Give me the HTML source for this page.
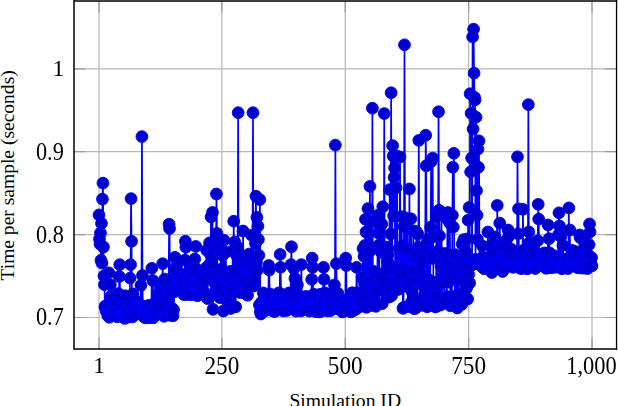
<!DOCTYPE html>
<html><head><meta charset="utf-8"><style>
html,body{margin:0;padding:0;background:#fff;overflow:hidden}
svg{display:block}
</style></head><body>
<svg width="618" height="406" viewBox="0 0 618 406">
<path d="M99.00 1.00V349.00M221.88 1.00V349.00M345.26 1.00V349.00M468.63 1.00V349.00M592.01 1.00V349.00M74.00 317.50H616.55M74.00 234.60H616.55M74.00 151.70H616.55M74.00 68.80H616.55" stroke="#b8b8b8" stroke-width="1.2" fill="none"/>
<path d="M99.00 349.00v-11.5M99.00 1.00v11.5M221.88 349.00v-11.5M221.88 1.00v11.5M345.26 349.00v-11.5M345.26 1.00v11.5M468.63 349.00v-11.5M468.63 1.00v11.5M592.01 349.00v-11.5M592.01 1.00v11.5M74.00 317.50h11.5M616.55 317.50h-11.5M74.00 234.60h11.5M616.55 234.60h-11.5M74.00 151.70h11.5M616.55 151.70h-11.5M74.00 68.80h11.5M616.55 68.80h-11.5" stroke="#9a9a9a" stroke-width="1.2" fill="none"/>
<g clip-path="url(#c)">
<path d="M99.00 214.90 L99.49 238.90 L99.99 244.00 L100.48 233.00 L100.97 260.30 L101.47 223.40 L101.96 263.20 L102.45 199.10 L102.95 183.10 L103.44 247.00 L103.94 275.80 L104.43 284.70 L104.92 306.96 L105.42 305.94 L105.91 309.75 L106.40 311.60 L106.90 310.64 L107.39 306.18 L107.88 315.75 L108.38 307.90 L108.87 272.80 L109.36 317.32 L109.86 310.16 L110.35 284.70 L110.84 296.42 L111.34 308.76 L111.83 306.53 L112.32 315.61 L112.82 312.56 L113.31 310.03 L113.81 305.85 L114.30 307.78 L114.79 310.77 L115.29 312.91 L115.78 309.05 L116.27 301.09 L116.77 312.75 L117.26 316.81 L117.75 295.74 L118.25 293.53 L118.74 315.22 L119.23 276.50 L119.73 264.70 L120.22 311.60 L120.71 314.02 L121.21 299.45 L121.70 296.08 L122.19 313.02 L122.69 311.16 L123.18 304.28 L123.67 313.97 L124.17 314.47 L124.66 318.41 L125.16 295.70 L125.65 314.03 L126.14 311.23 L126.64 306.58 L127.13 315.37 L127.62 308.34 L128.12 316.76 L128.61 311.06 L129.10 316.93 L129.60 303.23 L130.09 278.10 L130.58 264.70 L131.08 198.60 L131.57 241.30 L132.06 310.61 L132.56 316.94 L133.05 293.96 L133.55 308.13 L134.04 311.55 L134.53 308.55 L135.03 310.66 L135.52 312.65 L136.01 300.98 L136.51 313.34 L137.00 305.73 L137.49 302.14 L137.99 302.37 L138.48 310.39 L138.97 313.56 L139.47 305.91 L139.96 307.19 L140.45 305.71 L140.95 285.40 L141.44 307.04 L141.93 136.60 L142.43 275.50 L142.92 309.91 L143.41 316.37 L143.91 306.93 L144.40 309.52 L144.90 306.60 L145.39 317.91 L145.88 311.29 L146.38 306.33 L146.87 308.44 L147.36 307.10 L147.86 317.36 L148.35 306.91 L148.84 305.35 L149.34 317.72 L149.83 314.05 L150.32 309.77 L150.82 315.04 L151.31 315.13 L151.80 268.30 L152.30 307.90 L152.79 280.50 L153.28 317.80 L153.78 315.48 L154.27 314.62 L154.77 311.73 L155.26 305.38 L155.75 308.63 L156.25 314.00 L156.74 300.03 L157.23 304.89 L157.73 299.28 L158.22 307.95 L158.71 307.66 L159.21 292.21 L159.70 284.63 L160.19 290.39 L160.69 312.59 L161.18 290.08 L161.67 284.60 L162.17 314.26 L162.66 263.70 L163.16 314.41 L163.65 283.13 L164.14 316.31 L164.64 279.06 L165.13 305.96 L165.62 290.52 L166.12 314.74 L166.61 287.83 L167.10 311.13 L167.60 304.19 L168.09 287.69 L168.58 300.20 L169.08 224.20 L169.57 228.50 L170.06 292.81 L170.56 315.33 L171.05 279.80 L171.54 307.81 L172.04 311.62 L172.53 309.45 L173.03 315.83 L173.52 309.96 L174.01 291.32 L174.51 291.70 L175.00 257.30 L175.49 269.30 L175.99 280.89 L176.48 266.52 L176.97 271.13 L177.47 288.38 L177.96 279.26 L178.45 281.58 L178.95 280.51 L179.44 287.96 L179.93 281.69 L180.43 273.75 L180.92 280.22 L181.41 287.28 L181.91 278.41 L182.40 280.16 L182.89 285.40 L183.39 284.80 L183.88 294.60 L184.38 293.04 L184.87 260.15 L185.36 241.20 L185.86 247.20 L186.35 294.64 L186.84 275.29 L187.34 282.61 L187.83 277.78 L188.32 288.07 L188.82 293.53 L189.31 289.19 L189.80 275.43 L190.30 271.48 L190.79 294.86 L191.28 283.69 L191.78 269.32 L192.27 282.36 L192.76 280.14 L193.26 279.64 L193.75 272.47 L194.25 282.57 L194.74 259.00 L195.23 267.80 L195.73 246.40 L196.22 279.96 L196.71 284.29 L197.21 295.64 L197.70 295.32 L198.19 278.37 L198.69 290.70 L199.18 275.11 L199.67 293.87 L200.17 278.21 L200.66 294.06 L201.15 288.81 L201.65 273.38 L202.14 282.21 L202.63 294.52 L203.13 291.24 L203.62 292.55 L204.12 292.71 L204.61 280.14 L205.10 293.65 L205.60 268.14 L206.09 271.63 L206.58 250.10 L207.08 269.17 L207.57 298.62 L208.06 273.76 L208.56 273.28 L209.05 264.90 L209.54 242.80 L210.04 269.69 L210.53 254.50 L211.02 216.90 L211.52 264.58 L212.01 264.49 L212.50 212.40 L213.00 309.40 L213.49 281.63 L213.99 279.19 L214.48 240.76 L214.97 249.24 L215.47 290.71 L215.96 247.20 L216.45 194.00 L216.95 233.45 L217.44 280.21 L217.93 295.44 L218.43 290.63 L218.92 284.35 L219.41 275.12 L219.91 297.69 L220.40 287.71 L220.89 251.60 L221.39 269.22 L221.88 290.92 L222.38 255.43 L222.87 271.75 L223.36 311.00 L223.86 240.25 L224.35 278.70 L224.84 278.27 L225.34 294.78 L225.83 252.22 L226.32 294.90 L226.82 275.41 L227.31 300.96 L227.80 280.09 L228.30 280.15 L228.79 299.43 L229.28 276.78 L229.78 296.29 L230.27 271.45 L230.76 308.50 L231.26 280.93 L231.75 285.04 L232.25 292.13 L232.74 250.80 L233.23 274.44 L233.73 221.20 L234.22 270.80 L234.71 241.89 L235.21 284.58 L235.70 306.86 L236.19 254.31 L236.69 289.99 L237.18 256.00 L237.67 247.20 L238.17 112.70 L238.66 280.76 L239.15 290.72 L239.65 259.49 L240.14 292.57 L240.63 286.19 L241.13 265.00 L241.62 275.54 L242.12 290.75 L242.61 284.09 L243.10 231.00 L243.60 285.78 L244.09 264.11 L244.58 257.45 L245.08 281.13 L245.57 266.11 L246.06 272.07 L246.56 272.50 L247.05 270.57 L247.54 295.22 L248.04 276.24 L248.53 285.88 L249.02 254.04 L249.52 266.48 L250.01 272.13 L250.50 273.74 L251.00 264.40 L251.49 235.15 L251.98 263.40 L252.48 272.60 L252.97 112.70 L253.47 286.15 L253.96 273.31 L254.45 278.87 L254.95 267.79 L255.44 243.18 L255.93 196.20 L256.43 262.34 L256.92 217.30 L257.41 270.10 L257.91 226.20 L258.40 239.40 L258.89 255.30 L259.39 304.97 L259.88 199.60 L260.37 311.59 L260.87 314.00 L261.36 302.49 L261.86 311.29 L262.35 306.56 L262.84 305.81 L263.34 292.93 L263.83 305.61 L264.32 308.14 L264.82 310.67 L265.31 299.32 L265.80 305.39 L266.30 302.93 L266.79 303.47 L267.28 309.92 L267.78 308.76 L268.27 300.56 L268.76 265.50 L269.26 270.10 L269.75 296.99 L270.24 294.03 L270.74 304.11 L271.23 296.12 L271.73 304.56 L272.22 299.63 L272.71 309.85 L273.21 311.16 L273.70 302.45 L274.19 301.47 L274.69 311.43 L275.18 309.56 L275.67 310.87 L276.17 295.84 L276.66 299.64 L277.15 304.86 L277.65 307.38 L278.14 299.64 L278.63 292.89 L279.13 303.47 L279.62 308.61 L280.11 254.40 L280.61 267.30 L281.10 293.82 L281.60 302.91 L282.09 304.13 L282.58 301.10 L283.08 310.78 L283.57 301.86 L284.06 298.98 L284.56 300.81 L285.05 300.18 L285.54 300.18 L286.04 302.36 L286.53 310.53 L287.02 304.37 L287.52 305.81 L288.01 303.40 L288.50 302.61 L289.00 292.88 L289.49 307.19 L289.98 301.81 L290.48 302.23 L290.97 264.60 L291.47 246.75 L291.96 304.80 L292.45 297.94 L292.95 299.28 L293.44 308.22 L293.93 268.60 L294.43 305.15 L294.92 278.40 L295.41 299.00 L295.91 311.05 L296.40 310.12 L296.89 293.74 L297.39 284.90 L297.88 301.01 L298.37 307.87 L298.87 297.05 L299.36 308.94 L299.85 306.17 L300.35 309.17 L300.84 310.96 L301.34 264.60 L301.83 302.95 L302.32 302.27 L302.82 308.08 L303.31 299.91 L303.80 306.58 L304.30 301.91 L304.79 299.14 L305.28 304.99 L305.78 296.51 L306.27 305.18 L306.76 302.21 L307.26 296.93 L307.75 299.28 L308.24 307.77 L308.74 302.34 L309.23 311.03 L309.72 299.44 L310.22 304.47 L310.71 301.58 L311.20 308.61 L311.70 279.40 L312.19 258.10 L312.69 267.30 L313.18 301.67 L313.67 294.18 L314.17 302.00 L314.66 308.89 L315.15 311.38 L315.65 301.44 L316.14 304.42 L316.63 311.33 L317.13 304.11 L317.62 311.66 L318.11 299.67 L318.61 304.11 L319.10 310.49 L319.59 311.97 L320.09 294.30 L320.58 311.17 L321.07 299.41 L321.57 303.92 L322.06 303.31 L322.56 299.04 L323.05 303.57 L323.54 267.30 L324.04 279.40 L324.53 292.87 L325.02 293.45 L325.52 309.68 L326.01 304.62 L326.50 305.16 L327.00 310.95 L327.49 303.74 L327.98 299.39 L328.48 309.55 L328.97 299.53 L329.46 299.81 L329.96 293.80 L330.45 310.68 L330.94 302.54 L331.44 296.32 L331.93 308.32 L332.43 302.58 L332.92 308.82 L333.41 296.44 L333.91 292.17 L334.40 284.90 L334.89 305.18 L335.39 145.10 L335.88 298.68 L336.37 263.70 L336.87 302.26 L337.36 305.42 L337.85 293.28 L338.35 308.60 L338.84 309.05 L339.33 303.26 L339.83 303.70 L340.32 300.03 L340.81 308.79 L341.31 299.84 L341.80 306.18 L342.30 311.74 L342.79 311.84 L343.28 300.09 L343.78 305.48 L344.27 304.81 L344.76 304.42 L345.26 307.76 L345.75 258.10 L346.24 265.50 L346.74 310.01 L347.23 300.58 L347.72 302.82 L348.22 303.85 L348.71 301.59 L349.20 302.19 L349.70 310.49 L350.19 303.24 L350.69 311.90 L351.18 302.01 L351.67 307.49 L352.17 292.72 L352.66 309.65 L353.15 310.89 L353.65 302.82 L354.14 301.46 L354.63 296.08 L355.13 294.61 L355.62 304.84 L356.11 309.11 L356.61 267.30 L357.10 292.74 L357.59 307.06 L358.09 303.79 L358.58 301.65 L359.07 306.79 L359.57 301.64 L360.06 303.25 L360.56 301.41 L361.05 301.64 L361.54 306.12 L362.04 277.55 L362.53 293.25 L363.02 248.55 L363.52 298.34 L364.01 256.30 L364.50 283.92 L365.00 245.45 L365.49 219.30 L365.98 232.00 L366.48 307.36 L366.97 293.83 L367.46 288.58 L367.96 208.55 L368.45 245.89 L368.94 280.90 L369.44 251.70 L369.93 186.35 L370.43 305.56 L370.92 222.20 L371.41 302.71 L371.91 304.90 L372.40 108.20 L372.89 279.69 L373.39 293.30 L373.88 271.47 L374.37 295.78 L374.87 291.66 L375.36 283.92 L375.85 306.39 L376.35 291.17 L376.84 273.07 L377.33 278.43 L377.83 215.30 L378.32 233.00 L378.81 245.17 L379.31 275.87 L379.80 225.19 L380.30 233.09 L380.79 250.49 L381.28 252.22 L381.78 224.20 L382.27 303.62 L382.76 206.75 L383.26 251.12 L383.75 287.99 L384.24 113.55 L384.74 287.43 L385.23 282.65 L385.72 271.12 L386.22 293.68 L386.71 247.07 L387.20 249.30 L387.70 261.40 L388.19 254.57 L388.68 294.39 L389.18 297.06 L389.67 189.60 L390.17 289.34 L390.66 234.00 L391.15 92.75 L391.65 295.66 L392.14 282.23 L392.63 145.65 L393.13 156.10 L393.62 215.85 L394.11 177.38 L394.61 168.00 L395.10 267.84 L395.59 280.28 L396.09 187.75 L396.58 277.75 L397.07 156.10 L397.57 289.07 L398.06 289.47 L398.55 275.43 L399.05 248.30 L399.54 267.77 L400.03 157.00 L400.53 275.90 L401.02 287.23 L401.52 216.63 L402.01 245.87 L402.50 268.82 L403.00 308.36 L403.49 307.48 L403.98 226.60 L404.48 44.80 L404.97 217.61 L405.46 272.06 L405.96 286.28 L406.45 250.45 L406.94 221.35 L407.44 250.02 L407.93 306.20 L408.42 283.20 L408.92 285.17 L409.41 188.97 L409.90 280.37 L410.40 306.77 L410.89 218.75 L411.39 271.07 L411.88 301.47 L412.37 292.58 L412.87 256.07 L413.36 230.88 L413.85 270.71 L414.35 308.75 L414.84 257.04 L415.33 253.41 L415.83 308.00 L416.32 231.63 L416.81 300.76 L417.31 280.19 L417.80 234.00 L418.29 247.35 L418.79 140.40 L419.28 253.10 L419.77 273.55 L420.27 264.58 L420.76 274.06 L421.26 279.23 L421.75 258.10 L422.24 305.34 L422.74 281.95 L423.23 246.62 L423.72 286.42 L424.22 286.50 L424.71 294.43 L425.20 251.72 L425.70 135.25 L426.19 165.77 L426.68 259.30 L427.18 306.78 L427.67 239.90 L428.16 279.23 L428.66 296.34 L429.15 238.59 L429.64 283.25 L430.14 296.57 L430.63 227.10 L431.13 161.50 L431.62 255.81 L432.11 258.43 L432.61 158.10 L433.10 236.94 L433.59 305.62 L434.09 292.60 L434.58 282.32 L435.07 301.26 L435.57 307.00 L436.06 293.28 L436.55 216.84 L437.05 295.28 L437.54 296.45 L438.03 250.89 L438.53 111.75 L439.02 210.25 L439.51 235.90 L440.01 284.51 L440.50 305.13 L441.00 266.03 L441.49 212.30 L441.98 303.56 L442.48 259.03 L442.97 258.67 L443.46 277.68 L443.96 275.36 L444.45 300.24 L444.94 269.67 L445.44 253.45 L445.93 258.21 L446.42 260.65 L446.92 296.47 L447.41 219.38 L447.90 212.52 L448.40 282.26 L448.89 272.45 L449.38 255.15 L449.88 223.17 L450.37 305.76 L450.87 265.40 L451.36 273.41 L451.85 303.39 L452.35 215.20 L452.84 167.25 L453.33 227.10 L453.83 153.30 L454.32 270.01 L454.81 299.36 L455.31 254.62 L455.80 295.79 L456.29 305.88 L456.79 274.94 L457.28 308.00 L457.77 306.51 L458.27 278.96 L458.76 275.46 L459.25 263.75 L459.75 266.63 L460.24 294.67 L460.74 302.61 L461.23 270.96 L461.72 304.37 L462.22 244.11 L462.71 281.20 L463.20 275.20 L463.70 239.61 L464.19 269.10 L464.68 254.05 L465.18 277.43 L465.67 251.74 L466.16 288.83 L466.66 287.30 L467.15 238.90 L467.64 299.00 L468.14 220.20 L468.63 274.50 L469.12 207.40 L469.62 282.98 L470.11 93.75 L470.61 171.90 L471.10 113.30 L471.59 158.00 L472.09 265.02 L472.58 36.90 L473.07 129.00 L473.57 29.10 L474.06 73.20 L474.55 97.30 L475.05 99.90 L475.54 259.49 L476.03 117.20 L476.53 190.60 L477.02 215.20 L477.51 239.54 L478.01 149.10 L478.50 167.25 L479.00 140.80 L479.49 263.66 L479.98 263.60 L480.48 260.78 L480.97 265.82 L481.46 264.87 L481.96 258.03 L482.45 245.91 L482.94 257.39 L483.44 257.83 L483.93 268.69 L484.42 261.87 L484.92 266.15 L485.41 261.92 L485.90 266.65 L486.40 268.21 L486.89 258.01 L487.38 261.98 L487.88 232.00 L488.37 263.91 L488.87 266.03 L489.36 266.02 L489.85 259.98 L490.35 260.52 L490.84 245.86 L491.33 245.25 L491.83 272.50 L492.32 258.68 L492.81 250.01 L493.31 267.38 L493.80 261.45 L494.29 265.56 L494.79 236.90 L495.28 264.05 L495.77 259.57 L496.27 266.80 L496.76 265.39 L497.25 205.40 L497.75 261.14 L498.24 263.11 L498.74 261.47 L499.23 247.38 L499.72 223.05 L500.22 259.22 L500.71 266.81 L501.20 257.18 L501.70 259.57 L502.19 257.25 L502.68 271.50 L503.18 257.65 L503.67 242.02 L504.16 268.47 L504.66 260.38 L505.15 242.74 L505.64 261.09 L506.14 243.60 L506.63 263.93 L507.12 257.89 L507.62 255.48 L508.11 230.00 L508.61 236.70 L509.10 266.07 L509.59 262.01 L510.09 261.49 L510.58 263.45 L511.07 265.37 L511.57 249.30 L512.06 265.49 L512.55 258.20 L513.05 267.32 L513.54 264.80 L514.03 264.51 L514.53 265.60 L515.02 261.35 L515.51 263.80 L516.01 260.87 L516.50 264.98 L516.99 258.50 L517.49 156.80 L517.98 233.80 L518.48 208.80 L518.97 261.37 L519.46 260.73 L519.96 268.02 L520.45 264.16 L520.94 260.44 L521.44 268.64 L521.93 262.61 L522.42 265.95 L522.92 209.30 L523.41 250.19 L523.90 263.04 L524.40 265.04 L524.89 263.95 L525.38 262.30 L525.88 268.27 L526.37 264.58 L526.86 265.68 L527.36 268.78 L527.85 255.79 L528.35 104.60 L528.84 231.90 L529.33 242.70 L529.83 260.60 L530.32 260.86 L530.81 264.78 L531.31 258.71 L531.80 265.38 L532.29 250.27 L532.79 266.22 L533.28 257.97 L533.77 265.87 L534.27 263.88 L534.76 262.87 L535.25 268.49 L535.75 263.94 L536.24 266.43 L536.73 259.12 L537.23 256.75 L537.72 240.70 L538.21 204.30 L538.71 219.10 L539.20 259.97 L539.70 258.74 L540.19 258.55 L540.68 257.60 L541.18 265.11 L541.67 258.43 L542.16 261.71 L542.66 263.92 L543.15 260.07 L543.64 253.54 L544.14 266.59 L544.63 252.84 L545.12 266.64 L545.62 255.21 L546.11 268.32 L546.60 258.50 L547.10 257.00 L547.59 265.87 L548.09 225.00 L548.58 257.14 L549.07 238.70 L549.57 252.92 L550.06 267.48 L550.55 265.94 L551.05 267.51 L551.54 266.74 L552.03 264.70 L552.53 265.39 L553.02 267.36 L553.51 258.70 L554.01 256.95 L554.50 255.82 L554.99 257.02 L555.49 261.97 L555.98 267.08 L556.47 266.77 L556.97 262.88 L557.46 266.77 L557.95 260.86 L558.45 234.83 L558.94 212.80 L559.44 226.00 L559.93 263.91 L560.42 263.54 L560.92 236.70 L561.41 268.04 L561.90 268.74 L562.40 261.79 L562.89 245.34 L563.38 263.75 L563.88 267.06 L564.37 261.64 L564.86 265.79 L565.36 261.09 L565.85 262.76 L566.34 259.10 L566.84 260.65 L567.33 258.80 L567.83 268.65 L568.32 266.09 L568.81 207.90 L569.31 259.44 L569.80 230.00 L570.29 263.21 L570.79 265.98 L571.28 265.12 L571.77 250.45 L572.27 259.21 L572.76 257.66 L573.25 251.09 L573.75 266.05 L574.24 251.12 L574.73 263.78 L575.23 263.35 L575.72 257.98 L576.21 261.41 L576.71 256.42 L577.20 255.52 L577.69 267.80 L578.19 260.16 L578.68 266.01 L579.18 258.61 L579.67 234.90 L580.16 237.70 L580.66 260.90 L581.15 261.03 L581.64 268.07 L582.14 262.95 L582.63 256.66 L583.12 263.05 L583.62 249.46 L584.11 260.42 L584.60 268.13 L585.10 239.23 L585.59 256.43 L586.08 257.97 L586.58 255.22 L587.07 264.57 L587.57 268.53 L588.06 267.17 L588.55 255.25 L589.05 244.60 L589.54 224.00 L590.03 231.90 L590.53 261.40 L591.02 258.39 L591.51 257.62 L592.01 265.84" stroke="#0000ff" stroke-width="1.7" fill="none" stroke-linejoin="round"/>
<g fill="#0000cc" stroke="#0000ff" stroke-width="0.9"><circle cx="99.00" cy="214.90" r="5.9"/><circle cx="99.49" cy="238.90" r="5.9"/><circle cx="99.99" cy="244.00" r="5.9"/><circle cx="100.48" cy="233.00" r="5.9"/><circle cx="100.97" cy="260.30" r="5.9"/><circle cx="101.47" cy="223.40" r="5.9"/><circle cx="101.96" cy="263.20" r="5.9"/><circle cx="102.45" cy="199.10" r="5.9"/><circle cx="102.95" cy="183.10" r="5.9"/><circle cx="103.44" cy="247.00" r="5.9"/><circle cx="103.94" cy="275.80" r="5.9"/><circle cx="104.43" cy="284.70" r="5.9"/><circle cx="104.92" cy="306.96" r="5.9"/><circle cx="105.42" cy="305.94" r="5.9"/><circle cx="105.91" cy="309.75" r="5.9"/><circle cx="106.40" cy="311.60" r="5.9"/><circle cx="106.90" cy="310.64" r="5.9"/><circle cx="107.39" cy="306.18" r="5.9"/><circle cx="107.88" cy="315.75" r="5.9"/><circle cx="108.38" cy="307.90" r="5.9"/><circle cx="108.87" cy="272.80" r="5.9"/><circle cx="109.36" cy="317.32" r="5.9"/><circle cx="109.86" cy="310.16" r="5.9"/><circle cx="110.35" cy="284.70" r="5.9"/><circle cx="110.84" cy="296.42" r="5.9"/><circle cx="111.34" cy="308.76" r="5.9"/><circle cx="111.83" cy="306.53" r="5.9"/><circle cx="112.32" cy="315.61" r="5.9"/><circle cx="112.82" cy="312.56" r="5.9"/><circle cx="113.31" cy="310.03" r="5.9"/><circle cx="113.81" cy="305.85" r="5.9"/><circle cx="114.30" cy="307.78" r="5.9"/><circle cx="114.79" cy="310.77" r="5.9"/><circle cx="115.29" cy="312.91" r="5.9"/><circle cx="115.78" cy="309.05" r="5.9"/><circle cx="116.27" cy="301.09" r="5.9"/><circle cx="116.77" cy="312.75" r="5.9"/><circle cx="117.26" cy="316.81" r="5.9"/><circle cx="117.75" cy="295.74" r="5.9"/><circle cx="118.25" cy="293.53" r="5.9"/><circle cx="118.74" cy="315.22" r="5.9"/><circle cx="119.23" cy="276.50" r="5.9"/><circle cx="119.73" cy="264.70" r="5.9"/><circle cx="120.22" cy="311.60" r="5.9"/><circle cx="120.71" cy="314.02" r="5.9"/><circle cx="121.21" cy="299.45" r="5.9"/><circle cx="121.70" cy="296.08" r="5.9"/><circle cx="122.19" cy="313.02" r="5.9"/><circle cx="122.69" cy="311.16" r="5.9"/><circle cx="123.18" cy="304.28" r="5.9"/><circle cx="123.67" cy="313.97" r="5.9"/><circle cx="124.17" cy="314.47" r="5.9"/><circle cx="124.66" cy="318.41" r="5.9"/><circle cx="125.16" cy="295.70" r="5.9"/><circle cx="125.65" cy="314.03" r="5.9"/><circle cx="126.14" cy="311.23" r="5.9"/><circle cx="126.64" cy="306.58" r="5.9"/><circle cx="127.13" cy="315.37" r="5.9"/><circle cx="127.62" cy="308.34" r="5.9"/><circle cx="128.12" cy="316.76" r="5.9"/><circle cx="128.61" cy="311.06" r="5.9"/><circle cx="129.10" cy="316.93" r="5.9"/><circle cx="129.60" cy="303.23" r="5.9"/><circle cx="130.09" cy="278.10" r="5.9"/><circle cx="130.58" cy="264.70" r="5.9"/><circle cx="131.08" cy="198.60" r="5.9"/><circle cx="131.57" cy="241.30" r="5.9"/><circle cx="132.06" cy="310.61" r="5.9"/><circle cx="132.56" cy="316.94" r="5.9"/><circle cx="133.05" cy="293.96" r="5.9"/><circle cx="133.55" cy="308.13" r="5.9"/><circle cx="134.04" cy="311.55" r="5.9"/><circle cx="134.53" cy="308.55" r="5.9"/><circle cx="135.03" cy="310.66" r="5.9"/><circle cx="135.52" cy="312.65" r="5.9"/><circle cx="136.01" cy="300.98" r="5.9"/><circle cx="136.51" cy="313.34" r="5.9"/><circle cx="137.00" cy="305.73" r="5.9"/><circle cx="137.49" cy="302.14" r="5.9"/><circle cx="137.99" cy="302.37" r="5.9"/><circle cx="138.48" cy="310.39" r="5.9"/><circle cx="138.97" cy="313.56" r="5.9"/><circle cx="139.47" cy="305.91" r="5.9"/><circle cx="139.96" cy="307.19" r="5.9"/><circle cx="140.45" cy="305.71" r="5.9"/><circle cx="140.95" cy="285.40" r="5.9"/><circle cx="141.44" cy="307.04" r="5.9"/><circle cx="141.93" cy="136.60" r="5.9"/><circle cx="142.43" cy="275.50" r="5.9"/><circle cx="142.92" cy="309.91" r="5.9"/><circle cx="143.41" cy="316.37" r="5.9"/><circle cx="143.91" cy="306.93" r="5.9"/><circle cx="144.40" cy="309.52" r="5.9"/><circle cx="144.90" cy="306.60" r="5.9"/><circle cx="145.39" cy="317.91" r="5.9"/><circle cx="145.88" cy="311.29" r="5.9"/><circle cx="146.38" cy="306.33" r="5.9"/><circle cx="146.87" cy="308.44" r="5.9"/><circle cx="147.36" cy="307.10" r="5.9"/><circle cx="147.86" cy="317.36" r="5.9"/><circle cx="148.35" cy="306.91" r="5.9"/><circle cx="148.84" cy="305.35" r="5.9"/><circle cx="149.34" cy="317.72" r="5.9"/><circle cx="149.83" cy="314.05" r="5.9"/><circle cx="150.32" cy="309.77" r="5.9"/><circle cx="150.82" cy="315.04" r="5.9"/><circle cx="151.31" cy="315.13" r="5.9"/><circle cx="151.80" cy="268.30" r="5.9"/><circle cx="152.30" cy="307.90" r="5.9"/><circle cx="152.79" cy="280.50" r="5.9"/><circle cx="153.28" cy="317.80" r="5.9"/><circle cx="153.78" cy="315.48" r="5.9"/><circle cx="154.27" cy="314.62" r="5.9"/><circle cx="154.77" cy="311.73" r="5.9"/><circle cx="155.26" cy="305.38" r="5.9"/><circle cx="155.75" cy="308.63" r="5.9"/><circle cx="156.25" cy="314.00" r="5.9"/><circle cx="156.74" cy="300.03" r="5.9"/><circle cx="157.23" cy="304.89" r="5.9"/><circle cx="157.73" cy="299.28" r="5.9"/><circle cx="158.22" cy="307.95" r="5.9"/><circle cx="158.71" cy="307.66" r="5.9"/><circle cx="159.21" cy="292.21" r="5.9"/><circle cx="159.70" cy="284.63" r="5.9"/><circle cx="160.19" cy="290.39" r="5.9"/><circle cx="160.69" cy="312.59" r="5.9"/><circle cx="161.18" cy="290.08" r="5.9"/><circle cx="161.67" cy="284.60" r="5.9"/><circle cx="162.17" cy="314.26" r="5.9"/><circle cx="162.66" cy="263.70" r="5.9"/><circle cx="163.16" cy="314.41" r="5.9"/><circle cx="163.65" cy="283.13" r="5.9"/><circle cx="164.14" cy="316.31" r="5.9"/><circle cx="164.64" cy="279.06" r="5.9"/><circle cx="165.13" cy="305.96" r="5.9"/><circle cx="165.62" cy="290.52" r="5.9"/><circle cx="166.12" cy="314.74" r="5.9"/><circle cx="166.61" cy="287.83" r="5.9"/><circle cx="167.10" cy="311.13" r="5.9"/><circle cx="167.60" cy="304.19" r="5.9"/><circle cx="168.09" cy="287.69" r="5.9"/><circle cx="168.58" cy="300.20" r="5.9"/><circle cx="169.08" cy="224.20" r="5.9"/><circle cx="169.57" cy="228.50" r="5.9"/><circle cx="170.06" cy="292.81" r="5.9"/><circle cx="170.56" cy="315.33" r="5.9"/><circle cx="171.05" cy="279.80" r="5.9"/><circle cx="171.54" cy="307.81" r="5.9"/><circle cx="172.04" cy="311.62" r="5.9"/><circle cx="172.53" cy="309.45" r="5.9"/><circle cx="173.03" cy="315.83" r="5.9"/><circle cx="173.52" cy="309.96" r="5.9"/><circle cx="174.01" cy="291.32" r="5.9"/><circle cx="174.51" cy="291.70" r="5.9"/><circle cx="175.00" cy="257.30" r="5.9"/><circle cx="175.49" cy="269.30" r="5.9"/><circle cx="175.99" cy="280.89" r="5.9"/><circle cx="176.48" cy="266.52" r="5.9"/><circle cx="176.97" cy="271.13" r="5.9"/><circle cx="177.47" cy="288.38" r="5.9"/><circle cx="177.96" cy="279.26" r="5.9"/><circle cx="178.45" cy="281.58" r="5.9"/><circle cx="178.95" cy="280.51" r="5.9"/><circle cx="179.44" cy="287.96" r="5.9"/><circle cx="179.93" cy="281.69" r="5.9"/><circle cx="180.43" cy="273.75" r="5.9"/><circle cx="180.92" cy="280.22" r="5.9"/><circle cx="181.41" cy="287.28" r="5.9"/><circle cx="181.91" cy="278.41" r="5.9"/><circle cx="182.40" cy="280.16" r="5.9"/><circle cx="182.89" cy="285.40" r="5.9"/><circle cx="183.39" cy="284.80" r="5.9"/><circle cx="183.88" cy="294.60" r="5.9"/><circle cx="184.38" cy="293.04" r="5.9"/><circle cx="184.87" cy="260.15" r="5.9"/><circle cx="185.36" cy="241.20" r="5.9"/><circle cx="185.86" cy="247.20" r="5.9"/><circle cx="186.35" cy="294.64" r="5.9"/><circle cx="186.84" cy="275.29" r="5.9"/><circle cx="187.34" cy="282.61" r="5.9"/><circle cx="187.83" cy="277.78" r="5.9"/><circle cx="188.32" cy="288.07" r="5.9"/><circle cx="188.82" cy="293.53" r="5.9"/><circle cx="189.31" cy="289.19" r="5.9"/><circle cx="189.80" cy="275.43" r="5.9"/><circle cx="190.30" cy="271.48" r="5.9"/><circle cx="190.79" cy="294.86" r="5.9"/><circle cx="191.28" cy="283.69" r="5.9"/><circle cx="191.78" cy="269.32" r="5.9"/><circle cx="192.27" cy="282.36" r="5.9"/><circle cx="192.76" cy="280.14" r="5.9"/><circle cx="193.26" cy="279.64" r="5.9"/><circle cx="193.75" cy="272.47" r="5.9"/><circle cx="194.25" cy="282.57" r="5.9"/><circle cx="194.74" cy="259.00" r="5.9"/><circle cx="195.23" cy="267.80" r="5.9"/><circle cx="195.73" cy="246.40" r="5.9"/><circle cx="196.22" cy="279.96" r="5.9"/><circle cx="196.71" cy="284.29" r="5.9"/><circle cx="197.21" cy="295.64" r="5.9"/><circle cx="197.70" cy="295.32" r="5.9"/><circle cx="198.19" cy="278.37" r="5.9"/><circle cx="198.69" cy="290.70" r="5.9"/><circle cx="199.18" cy="275.11" r="5.9"/><circle cx="199.67" cy="293.87" r="5.9"/><circle cx="200.17" cy="278.21" r="5.9"/><circle cx="200.66" cy="294.06" r="5.9"/><circle cx="201.15" cy="288.81" r="5.9"/><circle cx="201.65" cy="273.38" r="5.9"/><circle cx="202.14" cy="282.21" r="5.9"/><circle cx="202.63" cy="294.52" r="5.9"/><circle cx="203.13" cy="291.24" r="5.9"/><circle cx="203.62" cy="292.55" r="5.9"/><circle cx="204.12" cy="292.71" r="5.9"/><circle cx="204.61" cy="280.14" r="5.9"/><circle cx="205.10" cy="293.65" r="5.9"/><circle cx="205.60" cy="268.14" r="5.9"/><circle cx="206.09" cy="271.63" r="5.9"/><circle cx="206.58" cy="250.10" r="5.9"/><circle cx="207.08" cy="269.17" r="5.9"/><circle cx="207.57" cy="298.62" r="5.9"/><circle cx="208.06" cy="273.76" r="5.9"/><circle cx="208.56" cy="273.28" r="5.9"/><circle cx="209.05" cy="264.90" r="5.9"/><circle cx="209.54" cy="242.80" r="5.9"/><circle cx="210.04" cy="269.69" r="5.9"/><circle cx="210.53" cy="254.50" r="5.9"/><circle cx="211.02" cy="216.90" r="5.9"/><circle cx="211.52" cy="264.58" r="5.9"/><circle cx="212.01" cy="264.49" r="5.9"/><circle cx="212.50" cy="212.40" r="5.9"/><circle cx="213.00" cy="309.40" r="5.9"/><circle cx="213.49" cy="281.63" r="5.9"/><circle cx="213.99" cy="279.19" r="5.9"/><circle cx="214.48" cy="240.76" r="5.9"/><circle cx="214.97" cy="249.24" r="5.9"/><circle cx="215.47" cy="290.71" r="5.9"/><circle cx="215.96" cy="247.20" r="5.9"/><circle cx="216.45" cy="194.00" r="5.9"/><circle cx="216.95" cy="233.45" r="5.9"/><circle cx="217.44" cy="280.21" r="5.9"/><circle cx="217.93" cy="295.44" r="5.9"/><circle cx="218.43" cy="290.63" r="5.9"/><circle cx="218.92" cy="284.35" r="5.9"/><circle cx="219.41" cy="275.12" r="5.9"/><circle cx="219.91" cy="297.69" r="5.9"/><circle cx="220.40" cy="287.71" r="5.9"/><circle cx="220.89" cy="251.60" r="5.9"/><circle cx="221.39" cy="269.22" r="5.9"/><circle cx="221.88" cy="290.92" r="5.9"/><circle cx="222.38" cy="255.43" r="5.9"/><circle cx="222.87" cy="271.75" r="5.9"/><circle cx="223.36" cy="311.00" r="5.9"/><circle cx="223.86" cy="240.25" r="5.9"/><circle cx="224.35" cy="278.70" r="5.9"/><circle cx="224.84" cy="278.27" r="5.9"/><circle cx="225.34" cy="294.78" r="5.9"/><circle cx="225.83" cy="252.22" r="5.9"/><circle cx="226.32" cy="294.90" r="5.9"/><circle cx="226.82" cy="275.41" r="5.9"/><circle cx="227.31" cy="300.96" r="5.9"/><circle cx="227.80" cy="280.09" r="5.9"/><circle cx="228.30" cy="280.15" r="5.9"/><circle cx="228.79" cy="299.43" r="5.9"/><circle cx="229.28" cy="276.78" r="5.9"/><circle cx="229.78" cy="296.29" r="5.9"/><circle cx="230.27" cy="271.45" r="5.9"/><circle cx="230.76" cy="308.50" r="5.9"/><circle cx="231.26" cy="280.93" r="5.9"/><circle cx="231.75" cy="285.04" r="5.9"/><circle cx="232.25" cy="292.13" r="5.9"/><circle cx="232.74" cy="250.80" r="5.9"/><circle cx="233.23" cy="274.44" r="5.9"/><circle cx="233.73" cy="221.20" r="5.9"/><circle cx="234.22" cy="270.80" r="5.9"/><circle cx="234.71" cy="241.89" r="5.9"/><circle cx="235.21" cy="284.58" r="5.9"/><circle cx="235.70" cy="306.86" r="5.9"/><circle cx="236.19" cy="254.31" r="5.9"/><circle cx="236.69" cy="289.99" r="5.9"/><circle cx="237.18" cy="256.00" r="5.9"/><circle cx="237.67" cy="247.20" r="5.9"/><circle cx="238.17" cy="112.70" r="5.9"/><circle cx="238.66" cy="280.76" r="5.9"/><circle cx="239.15" cy="290.72" r="5.9"/><circle cx="239.65" cy="259.49" r="5.9"/><circle cx="240.14" cy="292.57" r="5.9"/><circle cx="240.63" cy="286.19" r="5.9"/><circle cx="241.13" cy="265.00" r="5.9"/><circle cx="241.62" cy="275.54" r="5.9"/><circle cx="242.12" cy="290.75" r="5.9"/><circle cx="242.61" cy="284.09" r="5.9"/><circle cx="243.10" cy="231.00" r="5.9"/><circle cx="243.60" cy="285.78" r="5.9"/><circle cx="244.09" cy="264.11" r="5.9"/><circle cx="244.58" cy="257.45" r="5.9"/><circle cx="245.08" cy="281.13" r="5.9"/><circle cx="245.57" cy="266.11" r="5.9"/><circle cx="246.06" cy="272.07" r="5.9"/><circle cx="246.56" cy="272.50" r="5.9"/><circle cx="247.05" cy="270.57" r="5.9"/><circle cx="247.54" cy="295.22" r="5.9"/><circle cx="248.04" cy="276.24" r="5.9"/><circle cx="248.53" cy="285.88" r="5.9"/><circle cx="249.02" cy="254.04" r="5.9"/><circle cx="249.52" cy="266.48" r="5.9"/><circle cx="250.01" cy="272.13" r="5.9"/><circle cx="250.50" cy="273.74" r="5.9"/><circle cx="251.00" cy="264.40" r="5.9"/><circle cx="251.49" cy="235.15" r="5.9"/><circle cx="251.98" cy="263.40" r="5.9"/><circle cx="252.48" cy="272.60" r="5.9"/><circle cx="252.97" cy="112.70" r="5.9"/><circle cx="253.47" cy="286.15" r="5.9"/><circle cx="253.96" cy="273.31" r="5.9"/><circle cx="254.45" cy="278.87" r="5.9"/><circle cx="254.95" cy="267.79" r="5.9"/><circle cx="255.44" cy="243.18" r="5.9"/><circle cx="255.93" cy="196.20" r="5.9"/><circle cx="256.43" cy="262.34" r="5.9"/><circle cx="256.92" cy="217.30" r="5.9"/><circle cx="257.41" cy="270.10" r="5.9"/><circle cx="257.91" cy="226.20" r="5.9"/><circle cx="258.40" cy="239.40" r="5.9"/><circle cx="258.89" cy="255.30" r="5.9"/><circle cx="259.39" cy="304.97" r="5.9"/><circle cx="259.88" cy="199.60" r="5.9"/><circle cx="260.37" cy="311.59" r="5.9"/><circle cx="260.87" cy="314.00" r="5.9"/><circle cx="261.36" cy="302.49" r="5.9"/><circle cx="261.86" cy="311.29" r="5.9"/><circle cx="262.35" cy="306.56" r="5.9"/><circle cx="262.84" cy="305.81" r="5.9"/><circle cx="263.34" cy="292.93" r="5.9"/><circle cx="263.83" cy="305.61" r="5.9"/><circle cx="264.32" cy="308.14" r="5.9"/><circle cx="264.82" cy="310.67" r="5.9"/><circle cx="265.31" cy="299.32" r="5.9"/><circle cx="265.80" cy="305.39" r="5.9"/><circle cx="266.30" cy="302.93" r="5.9"/><circle cx="266.79" cy="303.47" r="5.9"/><circle cx="267.28" cy="309.92" r="5.9"/><circle cx="267.78" cy="308.76" r="5.9"/><circle cx="268.27" cy="300.56" r="5.9"/><circle cx="268.76" cy="265.50" r="5.9"/><circle cx="269.26" cy="270.10" r="5.9"/><circle cx="269.75" cy="296.99" r="5.9"/><circle cx="270.24" cy="294.03" r="5.9"/><circle cx="270.74" cy="304.11" r="5.9"/><circle cx="271.23" cy="296.12" r="5.9"/><circle cx="271.73" cy="304.56" r="5.9"/><circle cx="272.22" cy="299.63" r="5.9"/><circle cx="272.71" cy="309.85" r="5.9"/><circle cx="273.21" cy="311.16" r="5.9"/><circle cx="273.70" cy="302.45" r="5.9"/><circle cx="274.19" cy="301.47" r="5.9"/><circle cx="274.69" cy="311.43" r="5.9"/><circle cx="275.18" cy="309.56" r="5.9"/><circle cx="275.67" cy="310.87" r="5.9"/><circle cx="276.17" cy="295.84" r="5.9"/><circle cx="276.66" cy="299.64" r="5.9"/><circle cx="277.15" cy="304.86" r="5.9"/><circle cx="277.65" cy="307.38" r="5.9"/><circle cx="278.14" cy="299.64" r="5.9"/><circle cx="278.63" cy="292.89" r="5.9"/><circle cx="279.13" cy="303.47" r="5.9"/><circle cx="279.62" cy="308.61" r="5.9"/><circle cx="280.11" cy="254.40" r="5.9"/><circle cx="280.61" cy="267.30" r="5.9"/><circle cx="281.10" cy="293.82" r="5.9"/><circle cx="281.60" cy="302.91" r="5.9"/><circle cx="282.09" cy="304.13" r="5.9"/><circle cx="282.58" cy="301.10" r="5.9"/><circle cx="283.08" cy="310.78" r="5.9"/><circle cx="283.57" cy="301.86" r="5.9"/><circle cx="284.06" cy="298.98" r="5.9"/><circle cx="284.56" cy="300.81" r="5.9"/><circle cx="285.05" cy="300.18" r="5.9"/><circle cx="285.54" cy="300.18" r="5.9"/><circle cx="286.04" cy="302.36" r="5.9"/><circle cx="286.53" cy="310.53" r="5.9"/><circle cx="287.02" cy="304.37" r="5.9"/><circle cx="287.52" cy="305.81" r="5.9"/><circle cx="288.01" cy="303.40" r="5.9"/><circle cx="288.50" cy="302.61" r="5.9"/><circle cx="289.00" cy="292.88" r="5.9"/><circle cx="289.49" cy="307.19" r="5.9"/><circle cx="289.98" cy="301.81" r="5.9"/><circle cx="290.48" cy="302.23" r="5.9"/><circle cx="290.97" cy="264.60" r="5.9"/><circle cx="291.47" cy="246.75" r="5.9"/><circle cx="291.96" cy="304.80" r="5.9"/><circle cx="292.45" cy="297.94" r="5.9"/><circle cx="292.95" cy="299.28" r="5.9"/><circle cx="293.44" cy="308.22" r="5.9"/><circle cx="293.93" cy="268.60" r="5.9"/><circle cx="294.43" cy="305.15" r="5.9"/><circle cx="294.92" cy="278.40" r="5.9"/><circle cx="295.41" cy="299.00" r="5.9"/><circle cx="295.91" cy="311.05" r="5.9"/><circle cx="296.40" cy="310.12" r="5.9"/><circle cx="296.89" cy="293.74" r="5.9"/><circle cx="297.39" cy="284.90" r="5.9"/><circle cx="297.88" cy="301.01" r="5.9"/><circle cx="298.37" cy="307.87" r="5.9"/><circle cx="298.87" cy="297.05" r="5.9"/><circle cx="299.36" cy="308.94" r="5.9"/><circle cx="299.85" cy="306.17" r="5.9"/><circle cx="300.35" cy="309.17" r="5.9"/><circle cx="300.84" cy="310.96" r="5.9"/><circle cx="301.34" cy="264.60" r="5.9"/><circle cx="301.83" cy="302.95" r="5.9"/><circle cx="302.32" cy="302.27" r="5.9"/><circle cx="302.82" cy="308.08" r="5.9"/><circle cx="303.31" cy="299.91" r="5.9"/><circle cx="303.80" cy="306.58" r="5.9"/><circle cx="304.30" cy="301.91" r="5.9"/><circle cx="304.79" cy="299.14" r="5.9"/><circle cx="305.28" cy="304.99" r="5.9"/><circle cx="305.78" cy="296.51" r="5.9"/><circle cx="306.27" cy="305.18" r="5.9"/><circle cx="306.76" cy="302.21" r="5.9"/><circle cx="307.26" cy="296.93" r="5.9"/><circle cx="307.75" cy="299.28" r="5.9"/><circle cx="308.24" cy="307.77" r="5.9"/><circle cx="308.74" cy="302.34" r="5.9"/><circle cx="309.23" cy="311.03" r="5.9"/><circle cx="309.72" cy="299.44" r="5.9"/><circle cx="310.22" cy="304.47" r="5.9"/><circle cx="310.71" cy="301.58" r="5.9"/><circle cx="311.20" cy="308.61" r="5.9"/><circle cx="311.70" cy="279.40" r="5.9"/><circle cx="312.19" cy="258.10" r="5.9"/><circle cx="312.69" cy="267.30" r="5.9"/><circle cx="313.18" cy="301.67" r="5.9"/><circle cx="313.67" cy="294.18" r="5.9"/><circle cx="314.17" cy="302.00" r="5.9"/><circle cx="314.66" cy="308.89" r="5.9"/><circle cx="315.15" cy="311.38" r="5.9"/><circle cx="315.65" cy="301.44" r="5.9"/><circle cx="316.14" cy="304.42" r="5.9"/><circle cx="316.63" cy="311.33" r="5.9"/><circle cx="317.13" cy="304.11" r="5.9"/><circle cx="317.62" cy="311.66" r="5.9"/><circle cx="318.11" cy="299.67" r="5.9"/><circle cx="318.61" cy="304.11" r="5.9"/><circle cx="319.10" cy="310.49" r="5.9"/><circle cx="319.59" cy="311.97" r="5.9"/><circle cx="320.09" cy="294.30" r="5.9"/><circle cx="320.58" cy="311.17" r="5.9"/><circle cx="321.07" cy="299.41" r="5.9"/><circle cx="321.57" cy="303.92" r="5.9"/><circle cx="322.06" cy="303.31" r="5.9"/><circle cx="322.56" cy="299.04" r="5.9"/><circle cx="323.05" cy="303.57" r="5.9"/><circle cx="323.54" cy="267.30" r="5.9"/><circle cx="324.04" cy="279.40" r="5.9"/><circle cx="324.53" cy="292.87" r="5.9"/><circle cx="325.02" cy="293.45" r="5.9"/><circle cx="325.52" cy="309.68" r="5.9"/><circle cx="326.01" cy="304.62" r="5.9"/><circle cx="326.50" cy="305.16" r="5.9"/><circle cx="327.00" cy="310.95" r="5.9"/><circle cx="327.49" cy="303.74" r="5.9"/><circle cx="327.98" cy="299.39" r="5.9"/><circle cx="328.48" cy="309.55" r="5.9"/><circle cx="328.97" cy="299.53" r="5.9"/><circle cx="329.46" cy="299.81" r="5.9"/><circle cx="329.96" cy="293.80" r="5.9"/><circle cx="330.45" cy="310.68" r="5.9"/><circle cx="330.94" cy="302.54" r="5.9"/><circle cx="331.44" cy="296.32" r="5.9"/><circle cx="331.93" cy="308.32" r="5.9"/><circle cx="332.43" cy="302.58" r="5.9"/><circle cx="332.92" cy="308.82" r="5.9"/><circle cx="333.41" cy="296.44" r="5.9"/><circle cx="333.91" cy="292.17" r="5.9"/><circle cx="334.40" cy="284.90" r="5.9"/><circle cx="334.89" cy="305.18" r="5.9"/><circle cx="335.39" cy="145.10" r="5.9"/><circle cx="335.88" cy="298.68" r="5.9"/><circle cx="336.37" cy="263.70" r="5.9"/><circle cx="336.87" cy="302.26" r="5.9"/><circle cx="337.36" cy="305.42" r="5.9"/><circle cx="337.85" cy="293.28" r="5.9"/><circle cx="338.35" cy="308.60" r="5.9"/><circle cx="338.84" cy="309.05" r="5.9"/><circle cx="339.33" cy="303.26" r="5.9"/><circle cx="339.83" cy="303.70" r="5.9"/><circle cx="340.32" cy="300.03" r="5.9"/><circle cx="340.81" cy="308.79" r="5.9"/><circle cx="341.31" cy="299.84" r="5.9"/><circle cx="341.80" cy="306.18" r="5.9"/><circle cx="342.30" cy="311.74" r="5.9"/><circle cx="342.79" cy="311.84" r="5.9"/><circle cx="343.28" cy="300.09" r="5.9"/><circle cx="343.78" cy="305.48" r="5.9"/><circle cx="344.27" cy="304.81" r="5.9"/><circle cx="344.76" cy="304.42" r="5.9"/><circle cx="345.26" cy="307.76" r="5.9"/><circle cx="345.75" cy="258.10" r="5.9"/><circle cx="346.24" cy="265.50" r="5.9"/><circle cx="346.74" cy="310.01" r="5.9"/><circle cx="347.23" cy="300.58" r="5.9"/><circle cx="347.72" cy="302.82" r="5.9"/><circle cx="348.22" cy="303.85" r="5.9"/><circle cx="348.71" cy="301.59" r="5.9"/><circle cx="349.20" cy="302.19" r="5.9"/><circle cx="349.70" cy="310.49" r="5.9"/><circle cx="350.19" cy="303.24" r="5.9"/><circle cx="350.69" cy="311.90" r="5.9"/><circle cx="351.18" cy="302.01" r="5.9"/><circle cx="351.67" cy="307.49" r="5.9"/><circle cx="352.17" cy="292.72" r="5.9"/><circle cx="352.66" cy="309.65" r="5.9"/><circle cx="353.15" cy="310.89" r="5.9"/><circle cx="353.65" cy="302.82" r="5.9"/><circle cx="354.14" cy="301.46" r="5.9"/><circle cx="354.63" cy="296.08" r="5.9"/><circle cx="355.13" cy="294.61" r="5.9"/><circle cx="355.62" cy="304.84" r="5.9"/><circle cx="356.11" cy="309.11" r="5.9"/><circle cx="356.61" cy="267.30" r="5.9"/><circle cx="357.10" cy="292.74" r="5.9"/><circle cx="357.59" cy="307.06" r="5.9"/><circle cx="358.09" cy="303.79" r="5.9"/><circle cx="358.58" cy="301.65" r="5.9"/><circle cx="359.07" cy="306.79" r="5.9"/><circle cx="359.57" cy="301.64" r="5.9"/><circle cx="360.06" cy="303.25" r="5.9"/><circle cx="360.56" cy="301.41" r="5.9"/><circle cx="361.05" cy="301.64" r="5.9"/><circle cx="361.54" cy="306.12" r="5.9"/><circle cx="362.04" cy="277.55" r="5.9"/><circle cx="362.53" cy="293.25" r="5.9"/><circle cx="363.02" cy="248.55" r="5.9"/><circle cx="363.52" cy="298.34" r="5.9"/><circle cx="364.01" cy="256.30" r="5.9"/><circle cx="364.50" cy="283.92" r="5.9"/><circle cx="365.00" cy="245.45" r="5.9"/><circle cx="365.49" cy="219.30" r="5.9"/><circle cx="365.98" cy="232.00" r="5.9"/><circle cx="366.48" cy="307.36" r="5.9"/><circle cx="366.97" cy="293.83" r="5.9"/><circle cx="367.46" cy="288.58" r="5.9"/><circle cx="367.96" cy="208.55" r="5.9"/><circle cx="368.45" cy="245.89" r="5.9"/><circle cx="368.94" cy="280.90" r="5.9"/><circle cx="369.44" cy="251.70" r="5.9"/><circle cx="369.93" cy="186.35" r="5.9"/><circle cx="370.43" cy="305.56" r="5.9"/><circle cx="370.92" cy="222.20" r="5.9"/><circle cx="371.41" cy="302.71" r="5.9"/><circle cx="371.91" cy="304.90" r="5.9"/><circle cx="372.40" cy="108.20" r="5.9"/><circle cx="372.89" cy="279.69" r="5.9"/><circle cx="373.39" cy="293.30" r="5.9"/><circle cx="373.88" cy="271.47" r="5.9"/><circle cx="374.37" cy="295.78" r="5.9"/><circle cx="374.87" cy="291.66" r="5.9"/><circle cx="375.36" cy="283.92" r="5.9"/><circle cx="375.85" cy="306.39" r="5.9"/><circle cx="376.35" cy="291.17" r="5.9"/><circle cx="376.84" cy="273.07" r="5.9"/><circle cx="377.33" cy="278.43" r="5.9"/><circle cx="377.83" cy="215.30" r="5.9"/><circle cx="378.32" cy="233.00" r="5.9"/><circle cx="378.81" cy="245.17" r="5.9"/><circle cx="379.31" cy="275.87" r="5.9"/><circle cx="379.80" cy="225.19" r="5.9"/><circle cx="380.30" cy="233.09" r="5.9"/><circle cx="380.79" cy="250.49" r="5.9"/><circle cx="381.28" cy="252.22" r="5.9"/><circle cx="381.78" cy="224.20" r="5.9"/><circle cx="382.27" cy="303.62" r="5.9"/><circle cx="382.76" cy="206.75" r="5.9"/><circle cx="383.26" cy="251.12" r="5.9"/><circle cx="383.75" cy="287.99" r="5.9"/><circle cx="384.24" cy="113.55" r="5.9"/><circle cx="384.74" cy="287.43" r="5.9"/><circle cx="385.23" cy="282.65" r="5.9"/><circle cx="385.72" cy="271.12" r="5.9"/><circle cx="386.22" cy="293.68" r="5.9"/><circle cx="386.71" cy="247.07" r="5.9"/><circle cx="387.20" cy="249.30" r="5.9"/><circle cx="387.70" cy="261.40" r="5.9"/><circle cx="388.19" cy="254.57" r="5.9"/><circle cx="388.68" cy="294.39" r="5.9"/><circle cx="389.18" cy="297.06" r="5.9"/><circle cx="389.67" cy="189.60" r="5.9"/><circle cx="390.17" cy="289.34" r="5.9"/><circle cx="390.66" cy="234.00" r="5.9"/><circle cx="391.15" cy="92.75" r="5.9"/><circle cx="391.65" cy="295.66" r="5.9"/><circle cx="392.14" cy="282.23" r="5.9"/><circle cx="392.63" cy="145.65" r="5.9"/><circle cx="393.13" cy="156.10" r="5.9"/><circle cx="393.62" cy="215.85" r="5.9"/><circle cx="394.11" cy="177.38" r="5.9"/><circle cx="394.61" cy="168.00" r="5.9"/><circle cx="395.10" cy="267.84" r="5.9"/><circle cx="395.59" cy="280.28" r="5.9"/><circle cx="396.09" cy="187.75" r="5.9"/><circle cx="396.58" cy="277.75" r="5.9"/><circle cx="397.07" cy="156.10" r="5.9"/><circle cx="397.57" cy="289.07" r="5.9"/><circle cx="398.06" cy="289.47" r="5.9"/><circle cx="398.55" cy="275.43" r="5.9"/><circle cx="399.05" cy="248.30" r="5.9"/><circle cx="399.54" cy="267.77" r="5.9"/><circle cx="400.03" cy="157.00" r="5.9"/><circle cx="400.53" cy="275.90" r="5.9"/><circle cx="401.02" cy="287.23" r="5.9"/><circle cx="401.52" cy="216.63" r="5.9"/><circle cx="402.01" cy="245.87" r="5.9"/><circle cx="402.50" cy="268.82" r="5.9"/><circle cx="403.00" cy="308.36" r="5.9"/><circle cx="403.49" cy="307.48" r="5.9"/><circle cx="403.98" cy="226.60" r="5.9"/><circle cx="404.48" cy="44.80" r="5.9"/><circle cx="404.97" cy="217.61" r="5.9"/><circle cx="405.46" cy="272.06" r="5.9"/><circle cx="405.96" cy="286.28" r="5.9"/><circle cx="406.45" cy="250.45" r="5.9"/><circle cx="406.94" cy="221.35" r="5.9"/><circle cx="407.44" cy="250.02" r="5.9"/><circle cx="407.93" cy="306.20" r="5.9"/><circle cx="408.42" cy="283.20" r="5.9"/><circle cx="408.92" cy="285.17" r="5.9"/><circle cx="409.41" cy="188.97" r="5.9"/><circle cx="409.90" cy="280.37" r="5.9"/><circle cx="410.40" cy="306.77" r="5.9"/><circle cx="410.89" cy="218.75" r="5.9"/><circle cx="411.39" cy="271.07" r="5.9"/><circle cx="411.88" cy="301.47" r="5.9"/><circle cx="412.37" cy="292.58" r="5.9"/><circle cx="412.87" cy="256.07" r="5.9"/><circle cx="413.36" cy="230.88" r="5.9"/><circle cx="413.85" cy="270.71" r="5.9"/><circle cx="414.35" cy="308.75" r="5.9"/><circle cx="414.84" cy="257.04" r="5.9"/><circle cx="415.33" cy="253.41" r="5.9"/><circle cx="415.83" cy="308.00" r="5.9"/><circle cx="416.32" cy="231.63" r="5.9"/><circle cx="416.81" cy="300.76" r="5.9"/><circle cx="417.31" cy="280.19" r="5.9"/><circle cx="417.80" cy="234.00" r="5.9"/><circle cx="418.29" cy="247.35" r="5.9"/><circle cx="418.79" cy="140.40" r="5.9"/><circle cx="419.28" cy="253.10" r="5.9"/><circle cx="419.77" cy="273.55" r="5.9"/><circle cx="420.27" cy="264.58" r="5.9"/><circle cx="420.76" cy="274.06" r="5.9"/><circle cx="421.26" cy="279.23" r="5.9"/><circle cx="421.75" cy="258.10" r="5.9"/><circle cx="422.24" cy="305.34" r="5.9"/><circle cx="422.74" cy="281.95" r="5.9"/><circle cx="423.23" cy="246.62" r="5.9"/><circle cx="423.72" cy="286.42" r="5.9"/><circle cx="424.22" cy="286.50" r="5.9"/><circle cx="424.71" cy="294.43" r="5.9"/><circle cx="425.20" cy="251.72" r="5.9"/><circle cx="425.70" cy="135.25" r="5.9"/><circle cx="426.19" cy="165.77" r="5.9"/><circle cx="426.68" cy="259.30" r="5.9"/><circle cx="427.18" cy="306.78" r="5.9"/><circle cx="427.67" cy="239.90" r="5.9"/><circle cx="428.16" cy="279.23" r="5.9"/><circle cx="428.66" cy="296.34" r="5.9"/><circle cx="429.15" cy="238.59" r="5.9"/><circle cx="429.64" cy="283.25" r="5.9"/><circle cx="430.14" cy="296.57" r="5.9"/><circle cx="430.63" cy="227.10" r="5.9"/><circle cx="431.13" cy="161.50" r="5.9"/><circle cx="431.62" cy="255.81" r="5.9"/><circle cx="432.11" cy="258.43" r="5.9"/><circle cx="432.61" cy="158.10" r="5.9"/><circle cx="433.10" cy="236.94" r="5.9"/><circle cx="433.59" cy="305.62" r="5.9"/><circle cx="434.09" cy="292.60" r="5.9"/><circle cx="434.58" cy="282.32" r="5.9"/><circle cx="435.07" cy="301.26" r="5.9"/><circle cx="435.57" cy="307.00" r="5.9"/><circle cx="436.06" cy="293.28" r="5.9"/><circle cx="436.55" cy="216.84" r="5.9"/><circle cx="437.05" cy="295.28" r="5.9"/><circle cx="437.54" cy="296.45" r="5.9"/><circle cx="438.03" cy="250.89" r="5.9"/><circle cx="438.53" cy="111.75" r="5.9"/><circle cx="439.02" cy="210.25" r="5.9"/><circle cx="439.51" cy="235.90" r="5.9"/><circle cx="440.01" cy="284.51" r="5.9"/><circle cx="440.50" cy="305.13" r="5.9"/><circle cx="441.00" cy="266.03" r="5.9"/><circle cx="441.49" cy="212.30" r="5.9"/><circle cx="441.98" cy="303.56" r="5.9"/><circle cx="442.48" cy="259.03" r="5.9"/><circle cx="442.97" cy="258.67" r="5.9"/><circle cx="443.46" cy="277.68" r="5.9"/><circle cx="443.96" cy="275.36" r="5.9"/><circle cx="444.45" cy="300.24" r="5.9"/><circle cx="444.94" cy="269.67" r="5.9"/><circle cx="445.44" cy="253.45" r="5.9"/><circle cx="445.93" cy="258.21" r="5.9"/><circle cx="446.42" cy="260.65" r="5.9"/><circle cx="446.92" cy="296.47" r="5.9"/><circle cx="447.41" cy="219.38" r="5.9"/><circle cx="447.90" cy="212.52" r="5.9"/><circle cx="448.40" cy="282.26" r="5.9"/><circle cx="448.89" cy="272.45" r="5.9"/><circle cx="449.38" cy="255.15" r="5.9"/><circle cx="449.88" cy="223.17" r="5.9"/><circle cx="450.37" cy="305.76" r="5.9"/><circle cx="450.87" cy="265.40" r="5.9"/><circle cx="451.36" cy="273.41" r="5.9"/><circle cx="451.85" cy="303.39" r="5.9"/><circle cx="452.35" cy="215.20" r="5.9"/><circle cx="452.84" cy="167.25" r="5.9"/><circle cx="453.33" cy="227.10" r="5.9"/><circle cx="453.83" cy="153.30" r="5.9"/><circle cx="454.32" cy="270.01" r="5.9"/><circle cx="454.81" cy="299.36" r="5.9"/><circle cx="455.31" cy="254.62" r="5.9"/><circle cx="455.80" cy="295.79" r="5.9"/><circle cx="456.29" cy="305.88" r="5.9"/><circle cx="456.79" cy="274.94" r="5.9"/><circle cx="457.28" cy="308.00" r="5.9"/><circle cx="457.77" cy="306.51" r="5.9"/><circle cx="458.27" cy="278.96" r="5.9"/><circle cx="458.76" cy="275.46" r="5.9"/><circle cx="459.25" cy="263.75" r="5.9"/><circle cx="459.75" cy="266.63" r="5.9"/><circle cx="460.24" cy="294.67" r="5.9"/><circle cx="460.74" cy="302.61" r="5.9"/><circle cx="461.23" cy="270.96" r="5.9"/><circle cx="461.72" cy="304.37" r="5.9"/><circle cx="462.22" cy="244.11" r="5.9"/><circle cx="462.71" cy="281.20" r="5.9"/><circle cx="463.20" cy="275.20" r="5.9"/><circle cx="463.70" cy="239.61" r="5.9"/><circle cx="464.19" cy="269.10" r="5.9"/><circle cx="464.68" cy="254.05" r="5.9"/><circle cx="465.18" cy="277.43" r="5.9"/><circle cx="465.67" cy="251.74" r="5.9"/><circle cx="466.16" cy="288.83" r="5.9"/><circle cx="466.66" cy="287.30" r="5.9"/><circle cx="467.15" cy="238.90" r="5.9"/><circle cx="467.64" cy="299.00" r="5.9"/><circle cx="468.14" cy="220.20" r="5.9"/><circle cx="468.63" cy="274.50" r="5.9"/><circle cx="469.12" cy="207.40" r="5.9"/><circle cx="469.62" cy="282.98" r="5.9"/><circle cx="470.11" cy="93.75" r="5.9"/><circle cx="470.61" cy="171.90" r="5.9"/><circle cx="471.10" cy="113.30" r="5.9"/><circle cx="471.59" cy="158.00" r="5.9"/><circle cx="472.09" cy="265.02" r="5.9"/><circle cx="472.58" cy="36.90" r="5.9"/><circle cx="473.07" cy="129.00" r="5.9"/><circle cx="473.57" cy="29.10" r="5.9"/><circle cx="474.06" cy="73.20" r="5.9"/><circle cx="474.55" cy="97.30" r="5.9"/><circle cx="475.05" cy="99.90" r="5.9"/><circle cx="475.54" cy="259.49" r="5.9"/><circle cx="476.03" cy="117.20" r="5.9"/><circle cx="476.53" cy="190.60" r="5.9"/><circle cx="477.02" cy="215.20" r="5.9"/><circle cx="477.51" cy="239.54" r="5.9"/><circle cx="478.01" cy="149.10" r="5.9"/><circle cx="478.50" cy="167.25" r="5.9"/><circle cx="479.00" cy="140.80" r="5.9"/><circle cx="479.49" cy="263.66" r="5.9"/><circle cx="479.98" cy="263.60" r="5.9"/><circle cx="480.48" cy="260.78" r="5.9"/><circle cx="480.97" cy="265.82" r="5.9"/><circle cx="481.46" cy="264.87" r="5.9"/><circle cx="481.96" cy="258.03" r="5.9"/><circle cx="482.45" cy="245.91" r="5.9"/><circle cx="482.94" cy="257.39" r="5.9"/><circle cx="483.44" cy="257.83" r="5.9"/><circle cx="483.93" cy="268.69" r="5.9"/><circle cx="484.42" cy="261.87" r="5.9"/><circle cx="484.92" cy="266.15" r="5.9"/><circle cx="485.41" cy="261.92" r="5.9"/><circle cx="485.90" cy="266.65" r="5.9"/><circle cx="486.40" cy="268.21" r="5.9"/><circle cx="486.89" cy="258.01" r="5.9"/><circle cx="487.38" cy="261.98" r="5.9"/><circle cx="487.88" cy="232.00" r="5.9"/><circle cx="488.37" cy="263.91" r="5.9"/><circle cx="488.87" cy="266.03" r="5.9"/><circle cx="489.36" cy="266.02" r="5.9"/><circle cx="489.85" cy="259.98" r="5.9"/><circle cx="490.35" cy="260.52" r="5.9"/><circle cx="490.84" cy="245.86" r="5.9"/><circle cx="491.33" cy="245.25" r="5.9"/><circle cx="491.83" cy="272.50" r="5.9"/><circle cx="492.32" cy="258.68" r="5.9"/><circle cx="492.81" cy="250.01" r="5.9"/><circle cx="493.31" cy="267.38" r="5.9"/><circle cx="493.80" cy="261.45" r="5.9"/><circle cx="494.29" cy="265.56" r="5.9"/><circle cx="494.79" cy="236.90" r="5.9"/><circle cx="495.28" cy="264.05" r="5.9"/><circle cx="495.77" cy="259.57" r="5.9"/><circle cx="496.27" cy="266.80" r="5.9"/><circle cx="496.76" cy="265.39" r="5.9"/><circle cx="497.25" cy="205.40" r="5.9"/><circle cx="497.75" cy="261.14" r="5.9"/><circle cx="498.24" cy="263.11" r="5.9"/><circle cx="498.74" cy="261.47" r="5.9"/><circle cx="499.23" cy="247.38" r="5.9"/><circle cx="499.72" cy="223.05" r="5.9"/><circle cx="500.22" cy="259.22" r="5.9"/><circle cx="500.71" cy="266.81" r="5.9"/><circle cx="501.20" cy="257.18" r="5.9"/><circle cx="501.70" cy="259.57" r="5.9"/><circle cx="502.19" cy="257.25" r="5.9"/><circle cx="502.68" cy="271.50" r="5.9"/><circle cx="503.18" cy="257.65" r="5.9"/><circle cx="503.67" cy="242.02" r="5.9"/><circle cx="504.16" cy="268.47" r="5.9"/><circle cx="504.66" cy="260.38" r="5.9"/><circle cx="505.15" cy="242.74" r="5.9"/><circle cx="505.64" cy="261.09" r="5.9"/><circle cx="506.14" cy="243.60" r="5.9"/><circle cx="506.63" cy="263.93" r="5.9"/><circle cx="507.12" cy="257.89" r="5.9"/><circle cx="507.62" cy="255.48" r="5.9"/><circle cx="508.11" cy="230.00" r="5.9"/><circle cx="508.61" cy="236.70" r="5.9"/><circle cx="509.10" cy="266.07" r="5.9"/><circle cx="509.59" cy="262.01" r="5.9"/><circle cx="510.09" cy="261.49" r="5.9"/><circle cx="510.58" cy="263.45" r="5.9"/><circle cx="511.07" cy="265.37" r="5.9"/><circle cx="511.57" cy="249.30" r="5.9"/><circle cx="512.06" cy="265.49" r="5.9"/><circle cx="512.55" cy="258.20" r="5.9"/><circle cx="513.05" cy="267.32" r="5.9"/><circle cx="513.54" cy="264.80" r="5.9"/><circle cx="514.03" cy="264.51" r="5.9"/><circle cx="514.53" cy="265.60" r="5.9"/><circle cx="515.02" cy="261.35" r="5.9"/><circle cx="515.51" cy="263.80" r="5.9"/><circle cx="516.01" cy="260.87" r="5.9"/><circle cx="516.50" cy="264.98" r="5.9"/><circle cx="516.99" cy="258.50" r="5.9"/><circle cx="517.49" cy="156.80" r="5.9"/><circle cx="517.98" cy="233.80" r="5.9"/><circle cx="518.48" cy="208.80" r="5.9"/><circle cx="518.97" cy="261.37" r="5.9"/><circle cx="519.46" cy="260.73" r="5.9"/><circle cx="519.96" cy="268.02" r="5.9"/><circle cx="520.45" cy="264.16" r="5.9"/><circle cx="520.94" cy="260.44" r="5.9"/><circle cx="521.44" cy="268.64" r="5.9"/><circle cx="521.93" cy="262.61" r="5.9"/><circle cx="522.42" cy="265.95" r="5.9"/><circle cx="522.92" cy="209.30" r="5.9"/><circle cx="523.41" cy="250.19" r="5.9"/><circle cx="523.90" cy="263.04" r="5.9"/><circle cx="524.40" cy="265.04" r="5.9"/><circle cx="524.89" cy="263.95" r="5.9"/><circle cx="525.38" cy="262.30" r="5.9"/><circle cx="525.88" cy="268.27" r="5.9"/><circle cx="526.37" cy="264.58" r="5.9"/><circle cx="526.86" cy="265.68" r="5.9"/><circle cx="527.36" cy="268.78" r="5.9"/><circle cx="527.85" cy="255.79" r="5.9"/><circle cx="528.35" cy="104.60" r="5.9"/><circle cx="528.84" cy="231.90" r="5.9"/><circle cx="529.33" cy="242.70" r="5.9"/><circle cx="529.83" cy="260.60" r="5.9"/><circle cx="530.32" cy="260.86" r="5.9"/><circle cx="530.81" cy="264.78" r="5.9"/><circle cx="531.31" cy="258.71" r="5.9"/><circle cx="531.80" cy="265.38" r="5.9"/><circle cx="532.29" cy="250.27" r="5.9"/><circle cx="532.79" cy="266.22" r="5.9"/><circle cx="533.28" cy="257.97" r="5.9"/><circle cx="533.77" cy="265.87" r="5.9"/><circle cx="534.27" cy="263.88" r="5.9"/><circle cx="534.76" cy="262.87" r="5.9"/><circle cx="535.25" cy="268.49" r="5.9"/><circle cx="535.75" cy="263.94" r="5.9"/><circle cx="536.24" cy="266.43" r="5.9"/><circle cx="536.73" cy="259.12" r="5.9"/><circle cx="537.23" cy="256.75" r="5.9"/><circle cx="537.72" cy="240.70" r="5.9"/><circle cx="538.21" cy="204.30" r="5.9"/><circle cx="538.71" cy="219.10" r="5.9"/><circle cx="539.20" cy="259.97" r="5.9"/><circle cx="539.70" cy="258.74" r="5.9"/><circle cx="540.19" cy="258.55" r="5.9"/><circle cx="540.68" cy="257.60" r="5.9"/><circle cx="541.18" cy="265.11" r="5.9"/><circle cx="541.67" cy="258.43" r="5.9"/><circle cx="542.16" cy="261.71" r="5.9"/><circle cx="542.66" cy="263.92" r="5.9"/><circle cx="543.15" cy="260.07" r="5.9"/><circle cx="543.64" cy="253.54" r="5.9"/><circle cx="544.14" cy="266.59" r="5.9"/><circle cx="544.63" cy="252.84" r="5.9"/><circle cx="545.12" cy="266.64" r="5.9"/><circle cx="545.62" cy="255.21" r="5.9"/><circle cx="546.11" cy="268.32" r="5.9"/><circle cx="546.60" cy="258.50" r="5.9"/><circle cx="547.10" cy="257.00" r="5.9"/><circle cx="547.59" cy="265.87" r="5.9"/><circle cx="548.09" cy="225.00" r="5.9"/><circle cx="548.58" cy="257.14" r="5.9"/><circle cx="549.07" cy="238.70" r="5.9"/><circle cx="549.57" cy="252.92" r="5.9"/><circle cx="550.06" cy="267.48" r="5.9"/><circle cx="550.55" cy="265.94" r="5.9"/><circle cx="551.05" cy="267.51" r="5.9"/><circle cx="551.54" cy="266.74" r="5.9"/><circle cx="552.03" cy="264.70" r="5.9"/><circle cx="552.53" cy="265.39" r="5.9"/><circle cx="553.02" cy="267.36" r="5.9"/><circle cx="553.51" cy="258.70" r="5.9"/><circle cx="554.01" cy="256.95" r="5.9"/><circle cx="554.50" cy="255.82" r="5.9"/><circle cx="554.99" cy="257.02" r="5.9"/><circle cx="555.49" cy="261.97" r="5.9"/><circle cx="555.98" cy="267.08" r="5.9"/><circle cx="556.47" cy="266.77" r="5.9"/><circle cx="556.97" cy="262.88" r="5.9"/><circle cx="557.46" cy="266.77" r="5.9"/><circle cx="557.95" cy="260.86" r="5.9"/><circle cx="558.45" cy="234.83" r="5.9"/><circle cx="558.94" cy="212.80" r="5.9"/><circle cx="559.44" cy="226.00" r="5.9"/><circle cx="559.93" cy="263.91" r="5.9"/><circle cx="560.42" cy="263.54" r="5.9"/><circle cx="560.92" cy="236.70" r="5.9"/><circle cx="561.41" cy="268.04" r="5.9"/><circle cx="561.90" cy="268.74" r="5.9"/><circle cx="562.40" cy="261.79" r="5.9"/><circle cx="562.89" cy="245.34" r="5.9"/><circle cx="563.38" cy="263.75" r="5.9"/><circle cx="563.88" cy="267.06" r="5.9"/><circle cx="564.37" cy="261.64" r="5.9"/><circle cx="564.86" cy="265.79" r="5.9"/><circle cx="565.36" cy="261.09" r="5.9"/><circle cx="565.85" cy="262.76" r="5.9"/><circle cx="566.34" cy="259.10" r="5.9"/><circle cx="566.84" cy="260.65" r="5.9"/><circle cx="567.33" cy="258.80" r="5.9"/><circle cx="567.83" cy="268.65" r="5.9"/><circle cx="568.32" cy="266.09" r="5.9"/><circle cx="568.81" cy="207.90" r="5.9"/><circle cx="569.31" cy="259.44" r="5.9"/><circle cx="569.80" cy="230.00" r="5.9"/><circle cx="570.29" cy="263.21" r="5.9"/><circle cx="570.79" cy="265.98" r="5.9"/><circle cx="571.28" cy="265.12" r="5.9"/><circle cx="571.77" cy="250.45" r="5.9"/><circle cx="572.27" cy="259.21" r="5.9"/><circle cx="572.76" cy="257.66" r="5.9"/><circle cx="573.25" cy="251.09" r="5.9"/><circle cx="573.75" cy="266.05" r="5.9"/><circle cx="574.24" cy="251.12" r="5.9"/><circle cx="574.73" cy="263.78" r="5.9"/><circle cx="575.23" cy="263.35" r="5.9"/><circle cx="575.72" cy="257.98" r="5.9"/><circle cx="576.21" cy="261.41" r="5.9"/><circle cx="576.71" cy="256.42" r="5.9"/><circle cx="577.20" cy="255.52" r="5.9"/><circle cx="577.69" cy="267.80" r="5.9"/><circle cx="578.19" cy="260.16" r="5.9"/><circle cx="578.68" cy="266.01" r="5.9"/><circle cx="579.18" cy="258.61" r="5.9"/><circle cx="579.67" cy="234.90" r="5.9"/><circle cx="580.16" cy="237.70" r="5.9"/><circle cx="580.66" cy="260.90" r="5.9"/><circle cx="581.15" cy="261.03" r="5.9"/><circle cx="581.64" cy="268.07" r="5.9"/><circle cx="582.14" cy="262.95" r="5.9"/><circle cx="582.63" cy="256.66" r="5.9"/><circle cx="583.12" cy="263.05" r="5.9"/><circle cx="583.62" cy="249.46" r="5.9"/><circle cx="584.11" cy="260.42" r="5.9"/><circle cx="584.60" cy="268.13" r="5.9"/><circle cx="585.10" cy="239.23" r="5.9"/><circle cx="585.59" cy="256.43" r="5.9"/><circle cx="586.08" cy="257.97" r="5.9"/><circle cx="586.58" cy="255.22" r="5.9"/><circle cx="587.07" cy="264.57" r="5.9"/><circle cx="587.57" cy="268.53" r="5.9"/><circle cx="588.06" cy="267.17" r="5.9"/><circle cx="588.55" cy="255.25" r="5.9"/><circle cx="589.05" cy="244.60" r="5.9"/><circle cx="589.54" cy="224.00" r="5.9"/><circle cx="590.03" cy="231.90" r="5.9"/><circle cx="590.53" cy="261.40" r="5.9"/><circle cx="591.02" cy="258.39" r="5.9"/><circle cx="591.51" cy="257.62" r="5.9"/><circle cx="592.01" cy="265.84" r="5.9"/></g>
</g>
<defs><clipPath id="c"><rect x="74.0" y="1.0" width="542.55" height="348.0"/></clipPath></defs>
<path d="M74.0 0V349.75M73.25 349.0H617.2M73.25 1.0H617.2" fill="none" stroke="#000" stroke-width="1.5"/><path d="M616.55 0V349.75" fill="none" stroke="#000" stroke-width="1.3"/>
<g font-family="Liberation Serif, serif" font-size="24.8" fill="#000" opacity="0.999"><text transform="translate(99.00 373.0) scale(0.937 0.91)" text-anchor="middle">1</text><text transform="translate(221.88 373.6) scale(0.937 1)" text-anchor="middle">250</text><text transform="translate(345.26 373.6) scale(0.937 1)" text-anchor="middle">500</text><text transform="translate(468.63 373.6) scale(0.937 1)" text-anchor="middle">750</text><text transform="translate(591.40 373.6) scale(0.904 1)" text-anchor="middle">1,000</text><text transform="translate(63.8 325.40) scale(0.899 1)" text-anchor="end">0.7</text><text transform="translate(63.8 242.50) scale(0.899 1)" text-anchor="end">0.8</text><text transform="translate(63.8 159.60) scale(0.899 1)" text-anchor="end">0.9</text><text transform="translate(64.4 75.90) scale(0.95 0.91)" text-anchor="end">1</text></g>
<text x="345.25" y="406.7" text-anchor="middle" font-family="Liberation Serif, serif" font-size="19.6" opacity="0.999">Simulation ID</text>
<text transform="translate(14,175.4) rotate(-90)" text-anchor="middle" font-family="Liberation Serif, serif" font-size="19.55" opacity="0.999">Time per sample (seconds)</text>
</svg>
</body></html>
